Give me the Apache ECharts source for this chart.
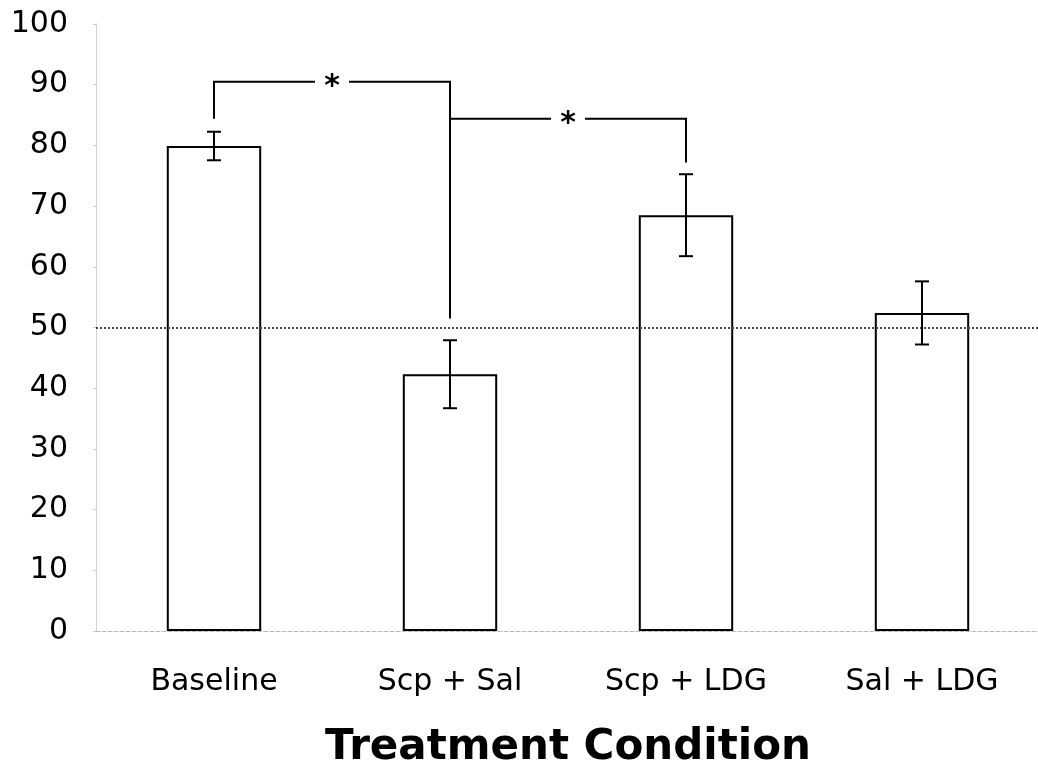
<!DOCTYPE html>
<html>
<head>
<meta charset="utf-8">
<script src="https://cdn.jsdelivr.net/npm/echarts@6/dist/echarts.min.js"></script>
<style>html,body{margin:0;padding:0;background:#fff}#c{width:1038px;height:763px}</style>
</head>
<body>
<div id="c"></div>
<script>
const categories = ['Baseline', 'Scp + Sal', 'Scp + LDG', 'Sal + LDG'];
const means = [79.9, 42.3, 68.5, 52.4];
const errors = [2.35, 5.6, 6.75, 5.2];
const yTicks = [0, 10, 20, 30, 40, 50, 60, 70, 80, 90, 100];
const chanceLevel = 50;
const bracketFrom = [0, 1];
const bracketTo = [1, 2];
const bracketTop = [90.5, 84.4];
const bracketLeftFoot = [84.4, 84.4];
const bracketRightFoot = [51.5, 77.2];
const xTitle = 'Treatment Condition';

const FONT = 'DejaVu Sans';
const chart = echarts.init(document.getElementById('c'), null, {renderer: 'canvas'});

const errData = categories.map((c, i) => [i, means[i] - errors[i], means[i] + errors[i]]);
const bracketData = bracketFrom.map((f, i) => [f, bracketTo[i], bracketTop[i], bracketLeftFoot[i], bracketRightFoot[i]]);

chart.setOption({
  animation: false,
  backgroundColor: '#fff',
  grid: {left: 96, right: -2, top: 24, bottom: 132, containLabel: false, outerBoundsMode: 'none'},
  xAxis: {
    type: 'category',
    data: categories,
    name: xTitle,
    nameLocation: 'middle',
    nameGap: 96,
    nameTextStyle: {fontFamily: FONT, fontSize: 42, fontWeight: 'bold', color: '#000'},
    axisLine: {show: true, lineStyle: {color: '#bbb', type: 'dashed', width: 1}},
    axisTick: {show: false},
    axisLabel: {fontFamily: FONT, fontSize: 30, color: '#000', margin: 36},
    splitLine: {show: false}
  },
  yAxis: {
    type: 'value',
    min: yTicks[0],
    max: yTicks[yTicks.length - 1],
    interval: 10,
    axisLine: {show: true, lineStyle: {color: '#ccc', type: 'dotted', width: 1}},
    axisTick: {show: true, length: 3, lineStyle: {color: '#ccc'}},
    axisLabel: {fontFamily: FONT, fontSize: 30, color: '#000', margin: 28, padding: [6, 0, 0, 0]},
    splitLine: {show: false}
  },
  series: [
    {
      type: 'bar',
      data: means,
      barWidth: '40%',
      itemStyle: {color: '#fff', borderColor: '#000', borderWidth: 2},
      markLine: {
        silent: true,
        symbol: 'none',
        label: {show: false},
        lineStyle: {color: '#444', type: 'dotted', width: 2},
        data: [{yAxis: chanceLevel}]
      },
      z: 2
    },
    {
      type: 'custom',
      data: errData,
      z: 5,
      renderItem: function (params, api) {
        const x = api.value(0);
        const lo = api.coord([x, api.value(1)]);
        const hi = api.coord([x, api.value(2)]);
        const cap = 7;
        const st = {stroke: '#000', lineWidth: 2};
        return {
          type: 'group',
          children: [
            {type: 'line', shape: {x1: lo[0], y1: lo[1], x2: hi[0], y2: hi[1]}, style: st},
            {type: 'line', shape: {x1: lo[0] - cap, y1: lo[1], x2: lo[0] + cap, y2: lo[1]}, style: st},
            {type: 'line', shape: {x1: hi[0] - cap, y1: hi[1], x2: hi[0] + cap, y2: hi[1]}, style: st}
          ]
        };
      }
    },
    {
      type: 'custom',
      data: bracketData,
      z: 6,
      renderItem: function (params, api) {
        const a = api.coord([api.value(0), api.value(2)]);
        const b = api.coord([api.value(1), api.value(2)]);
        const aFoot = api.coord([api.value(0), api.value(3)]);
        const bFoot = api.coord([api.value(1), api.value(4)]);
        const mid = (a[0] + b[0]) / 2;
        const gap = 17;
        const st = {stroke: '#000', lineWidth: 2, fill: null};
        return {
          type: 'group',
          children: [
            {type: 'polyline', shape: {points: [[aFoot[0], aFoot[1]], [a[0], a[1]], [mid - gap, a[1]]]}, style: st},
            {type: 'polyline', shape: {points: [[mid + gap, b[1]], [b[0], b[1]], [bFoot[0], bFoot[1]]]}, style: st},
            {type: 'text', x: mid, y: a[1] + 6, style: {text: '*', fontFamily: FONT, fontSize: 30, fontWeight: 'bold', fill: '#000', align: 'center', verticalAlign: 'middle'}}
          ]
        };
      }
    }
  ]
});
</script>
</body>
</html>
